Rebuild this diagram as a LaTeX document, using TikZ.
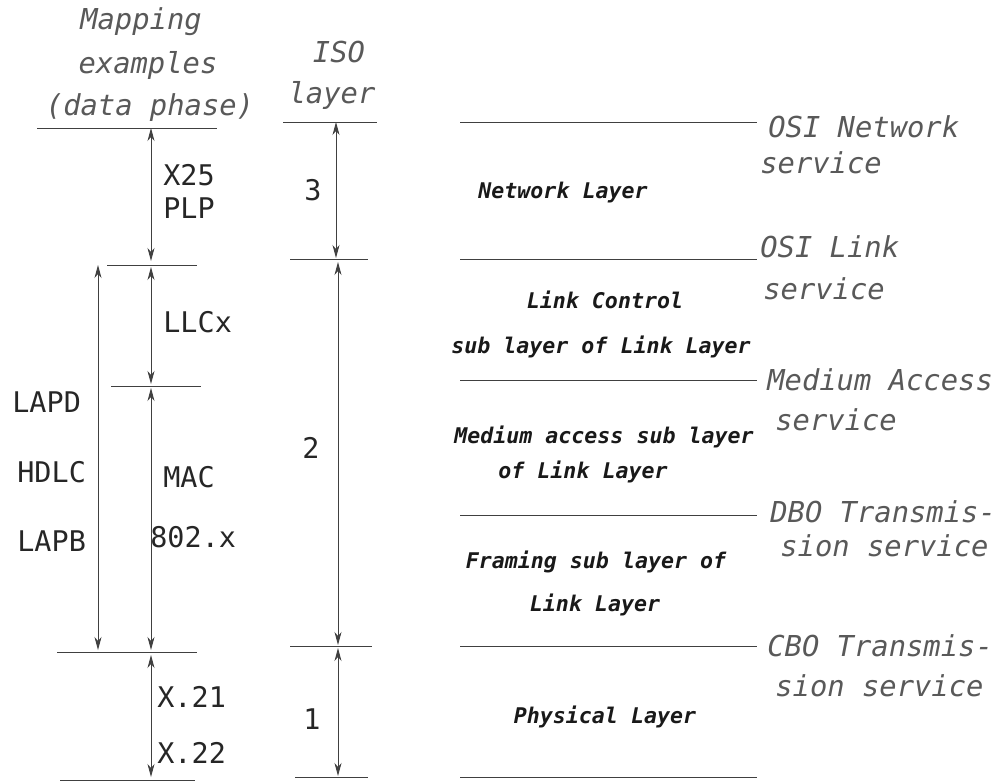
\documentclass[tikz,border=0pt]{standalone}
\usepackage{fontspec}
\usepackage{tikz}
\usetikzlibrary{arrows.meta}
\newfontfamily\plotfont{DejaVu Sans Mono}

\begin{document}
\begin{tikzpicture}[
    x=0.02cm,
    y=-0.02cm,
    rule/.style={
        black!75,
        line width=0.5pt
    },
    dim/.style={
        rule,
        <->,
        >={Stealth[length=0.26cm,width=0.14cm,inset=0.08cm]}
    },
    hand/.style={
        font=\plotfont\itshape\fontsize{16.4}{19}\selectfont,
        text=black!65,
        inner sep=0pt
    },
    proto/.style={
        font=\plotfont\fontsize{16.2}{19}\selectfont,
        text=black!85,
        inner sep=0pt
    },
    layer/.style={
        font=\plotfont\bfseries\itshape\fontsize{12.3}{15}\selectfont,
        text=black!90,
        inner sep=0pt
    }
]
\useasboundingbox (0,0) rectangle (1008,782);


% column headings
\node[hand] (maphead1) at (141,22) {Mapping};
\node[hand] (maphead2) at (148,65) {examples};
\node[hand] (maphead3) at (150,108) {(data phase)};
\node[hand] (isohead1) at (339,52) {ISO};
\node[hand] (isohead2) at (332,95) {layer};


% level rules, mapping column
\draw[rule] (37,128) -- (217,128);
\draw[rule] (107,265) -- (197,265);
\draw[rule] (111,386) -- (201,386);
\draw[rule] (57,652) -- (197,652);
\draw[rule] (60,780) -- (195,780);

% level rules, ISO column
\draw[rule] (283,122) -- (377,122);
\draw[rule] (290,259) -- (368,259);
\draw[rule] (290,646) -- (372,646);
\draw[rule] (295,777) -- (368,777);

% level rules, service column
\foreach \y in {122,259,380,515,646,777}
    \draw[rule] (460,\y) -- (757,\y);


% arrow ends
\coordinate (m0) at (151,128);
\coordinate (m1) at (151,261);
\coordinate (m2) at (151,267);
\coordinate (m3) at (151,384);
\coordinate (m4) at (151,388);
\coordinate (m5) at (151,650);
\coordinate (m6) at (151,655);
\coordinate (m7) at (151,777);
\coordinate (l0) at (98,265);
\coordinate (l1) at (98,650);
\coordinate (i0) at (336,122);
\coordinate (i1) at (336,258);
\coordinate (i2) at (338,262);
\coordinate (i3) at (338,645);
\coordinate (i4) at (338,648);
\coordinate (i5) at (338,776);

\draw[dim] (m0) -- (m1);
\draw[dim] (m2) -- (m3);
\draw[dim] (m4) -- (m5);
\draw[dim] (m6) -- (m7);
\draw[dim] (l0) -- (l1);
\draw[dim] (i0) -- (i1);
\draw[dim] (i2) -- (i3);
\draw[dim] (i4) -- (i5);


% mapping examples
\node[proto, anchor=west] (x25) at (163,175) {X25};
\node[proto, anchor=west] (plp) at (163,208) {PLP};
\node[proto, anchor=west] (llcx) at (163,322) {LLCx};
\node[proto, anchor=west] (mac) at (163,477) {MAC};
\node[proto, anchor=west] (ieee) at (150,537) {802.x};
\node[proto, anchor=west] (x21) at (157,697) {X.21};
\node[proto, anchor=west] (x22) at (157,753) {X.22};
\node[proto, anchor=west] (lapd) at (12,402) {LAPD};
\node[proto, anchor=west] (hdlc) at (17,472) {HDLC};
\node[proto, anchor=west] (lapb) at (17,541) {LAPB};

% ISO layer numbers
\node[proto] (iso3) at (313,190) {3};
\node[proto] (iso2) at (311,448) {2};
\node[proto] (iso1) at (312,719) {1};


% layers
\node[layer] (netlayer) at (563,193) {Network Layer};
\node[layer] (llc1) at (605,300) {Link Control};
\node[layer] (llc2) at (601,347) {sub layer of Link Layer};
\node[layer] (mac1) at (604,437) {Medium access sub layer};
\node[layer] (mac2) at (583,472) {of Link Layer};
\node[layer] (frm1) at (596,562) {Framing sub layer of};
\node[layer] (frm2) at (595,605) {Link Layer};
\node[layer] (phys) at (605,717) {Physical Layer};


% services
\node[hand, anchor=west] (netsvc1) at (768,127) {OSI Network};
\node[hand, anchor=west] (netsvc2) at (760,163) {service};
\node[hand, anchor=west] (lnksvc1) at (760,247) {OSI Link};
\node[hand, anchor=west] (lnksvc2) at (763,289) {service};
\node[hand, anchor=west] (medsvc1) at (767,380) {Medium Access};
\node[hand, anchor=west] (medsvc2) at (775,420) {service};
\node[hand, anchor=west] (dbosvc1) at (770,512) {DBO Transmis-};
\node[hand, anchor=west] (dbosvc2) at (780,546) {sion service};
\node[hand, anchor=west] (cbosvc1) at (767,646) {CBO Transmis-};
\node[hand, anchor=west] (cbosvc2) at (775,686) {sion service};

\end{tikzpicture}
\end{document}
